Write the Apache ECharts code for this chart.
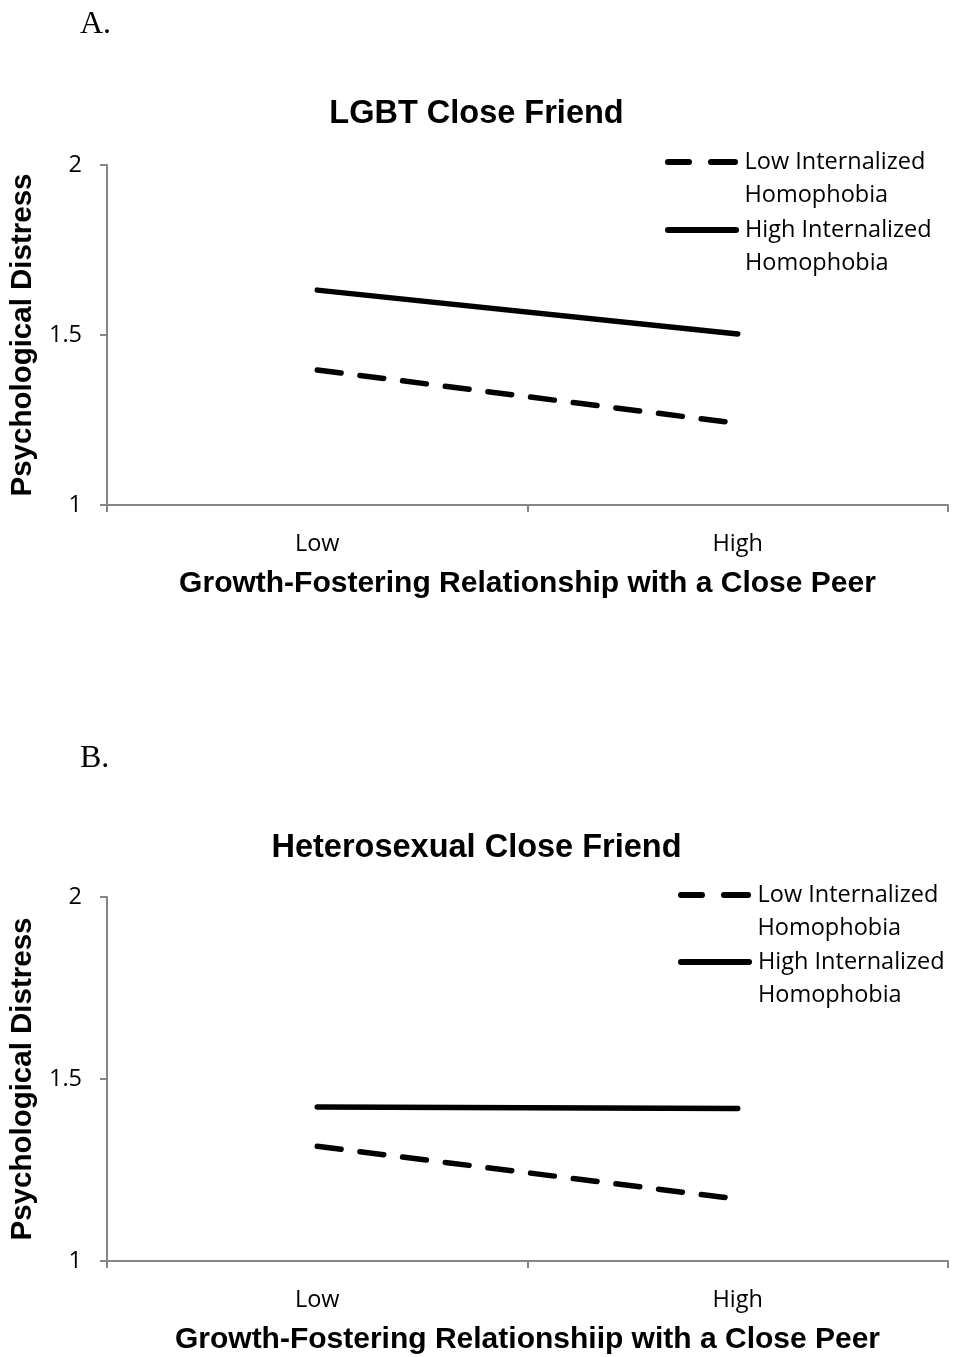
<!DOCTYPE html>
<html>
<head>
<meta charset="utf-8">
<script src="https://cdn.jsdelivr.net/npm/echarts@6/dist/echarts.min.js"></script>
<style>html,body{margin:0;padding:0;background:#fff;}#c{width:953px;height:1357px;}</style>
</head>
<body>
<div id="c"></div>
<script>
const categories = ['Low', 'High'];
const lgbtLowIH = [1.397, 1.24];
const lgbtHighIH = [1.632, 1.503];
const heteroLowIH = [1.315, 1.17];
const heteroHighIH = [1.423, 1.419];
const yTicks = [1, 1.5, 2];
const seriesNames = ['Low Internalized Homophobia', 'High Internalized Homophobia'];
const panelTitles = ['LGBT Close Friend', 'Heterosexual Close Friend'];
const panelLabels = ['A.', 'B.'];
const xNames = ['Growth-Fostering Relationship with a Close Peer', 'Growth-Fostering Relationshiip with a Close Peer'];
const yName = 'Psychological Distress';

const chart = echarts.init(document.getElementById('c'), null, {renderer: 'canvas'});
const axisColor = '#868686';
const labelFont = 'Open Sans';
const boldFont = 'Liberation Sans';
const smallSize = 23.5;

function xAxis(i) {
  return {
    type: 'category', gridIndex: i, data: categories, boundaryGap: true,
    axisLine: {lineStyle: {color: axisColor, width: 2}},
    axisTick: {show: true, length: 7, lineStyle: {color: axisColor, width: 2}},
    axisLabel: {color: '#000', fontSize: smallSize, fontFamily: labelFont, margin: 27},
    name: xNames[i], nameLocation: 'middle', nameGap: 64,
    nameTextStyle: {color: '#000', fontSize: 30, fontWeight: 'bold', fontFamily: boldFont}
  };
}
function yAxis(i) {
  return {
    type: 'value', gridIndex: i, min: 1, max: 2, interval: 0.5,
    axisLine: {show: true, lineStyle: {color: axisColor, width: 2}},
    axisTick: {show: true, length: 7, lineStyle: {color: axisColor, width: 2}},
    splitLine: {show: false},
    axisLabel: {color: '#000', fontSize: smallSize, fontFamily: labelFont, margin: 25,
      formatter: v => yTicks.includes(v) ? String(v) : ''},
    name: yName, nameLocation: 'middle', nameGap: 67,
    nameTextStyle: {color: '#000', fontSize: 29.5, fontWeight: 'bold', fontFamily: boldFont}
  };
}
const dash = [24, 19];
function mk(name, data, i, dashed) {
  return {
    name: name, type: 'line', xAxisIndex: i, yAxisIndex: i, data: data,
    symbol: 'none', silent: true,
    lineStyle: {color: '#000', width: 5.5, type: dashed ? dash : 'solid', cap: 'round'},
    itemStyle: {color: '#000'}
  };
}
const dashedIcon = 'path://M3,0H24A3,3 0 0 1 24,6H3A3,3 0 0 1 3,0Z M46,0H70A3,3 0 0 1 70,6H46A3,3 0 0 1 46,0Z';
const solidIcon = 'path://M3,0H71A3,3 0 0 1 71,6H3A3,3 0 0 1 3,0Z';
function legend(name, icon, left, top) {
  return {
    data: [{name: name, icon: icon}], left: left, top: top, orient: 'vertical', padding: 0,
    itemWidth: 76, itemHeight: 6, itemGap: 0, selectedMode: false,
    formatter: n => '\n' + n.replace(' Homophobia', '\nHomophobia'),
    textStyle: {color: '#000', fontSize: smallSize, fontFamily: labelFont, lineHeight: 33}
  };
}

chart.setOption({
  animation: false,
  backgroundColor: '#fff',
  title: [
    {text: panelLabels[0], left: 75, top: 4, textStyle: {fontFamily: 'Liberation Serif', fontWeight: 'normal', fontSize: 32, color: '#000'}},
    {text: panelTitles[0], left: 'center', top: 93, textStyle: {fontFamily: boldFont, fontWeight: 'bold', fontSize: 32.5, color: '#000'}},
    {text: panelLabels[1], left: 75, top: 738, textStyle: {fontFamily: 'Liberation Serif', fontWeight: 'normal', fontSize: 32, color: '#000'}},
    {text: panelTitles[1], left: 'center', top: 827, textStyle: {fontFamily: boldFont, fontWeight: 'bold', fontSize: 32.5, color: '#000'}}
  ],
  legend: [
    legend(seriesNames[0], dashedIcon, 665, 112.5),
    legend(seriesNames[1], solidIcon, 665, 180.5),
    legend(seriesNames[0], dashedIcon, 678, 845.5),
    legend(seriesNames[1], solidIcon, 678, 912.5)
  ],
  grid: [
    {left: 107, right: 5, top: 165, height: 340},
    {left: 107, right: 5, top: 897, height: 364}
  ],
  xAxis: [xAxis(0), xAxis(1)],
  yAxis: [yAxis(0), yAxis(1)],
  series: [
    mk(seriesNames[0], lgbtLowIH, 0, true),
    mk(seriesNames[1], lgbtHighIH, 0, false),
    mk(seriesNames[0], heteroLowIH, 1, true),
    mk(seriesNames[1], heteroHighIH, 1, false)
  ]
});
</script>
</body>
</html>
